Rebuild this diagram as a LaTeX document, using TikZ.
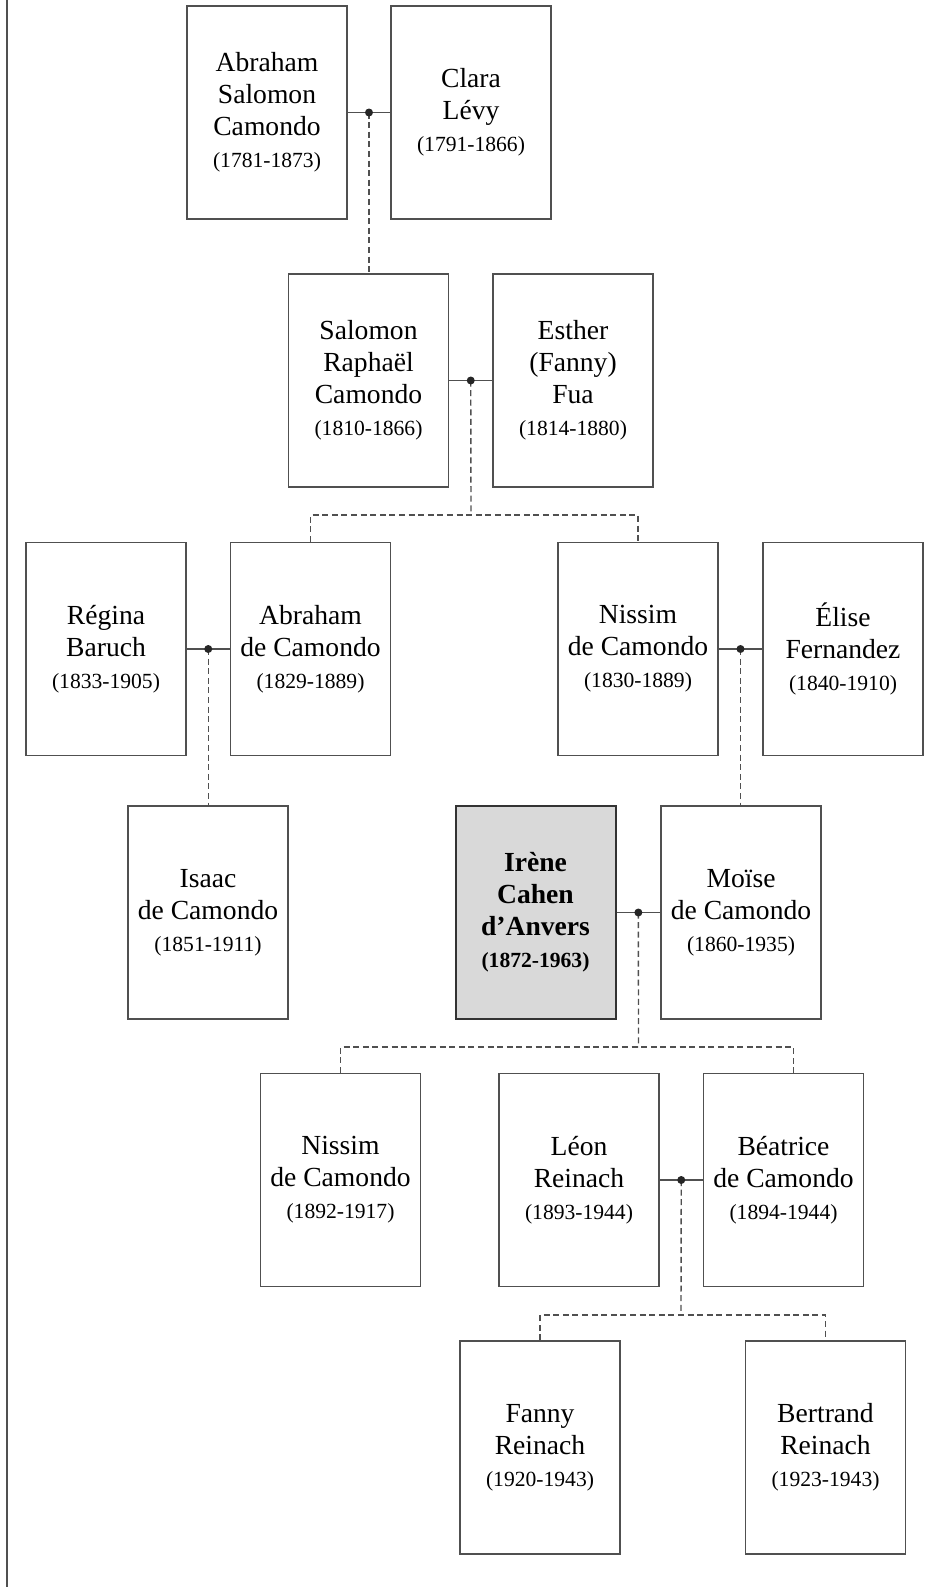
\documentclass[tikz,border=0pt]{standalone}
\usepackage{fontspec}
\setmainfont{Liberation Serif}
\definecolor{linegray}{HTML}{505050}
\definecolor{focusgray}{HTML}{D9D9D9}
\newcommand{\lifespan}[1]{{\fontsize{10.8}{16}\selectfont(#1)}}

\begin{document}
\begin{tikzpicture}[x=0.5pt,y=-0.5pt,
    person/.style={draw=linegray,line width=0.75pt,fill=white,minimum width=80pt,
        minimum height=106.5pt,inner sep=0pt,align=center,
        font=\fontsize{13.8}{16}\selectfont},
    focus/.style={person,fill=focusgray,draw=black!80,line width=1pt,
        font=\fontsize{13.8}{16}\selectfont\bfseries},
    marriage/.style={draw=linegray,line width=0.75pt},
    descent/.style={draw=linegray,line width=0.7pt,dash pattern=on 3pt off 1.8pt},
    knot/.style={fill=black!85}]
    \useasboundingbox (0,0) rectangle (931,1587);
    \draw[linegray,line width=0.9pt] (7,0)--(7,1587);
    % generation 1
    \node[person] (abrs) at (267,112.5) {Abraham\\Salomon\\Camondo\\\lifespan{1781-1873}};
    \node[person] (clara) at (471,112.5) {Clara\\Lévy\\\lifespan{1791-1866}};
    % generation 2
    \node[person] (salomon) at (368.5,380.5) {Salomon\\Raphaël\\Camondo\\\lifespan{1810-1866}};
    \node[person] (esther) at (573,380.5) {Esther\\(Fanny)\\Fua\\\lifespan{1814-1880}};
    % generation 3
    \node[person] (regina) at (106,649) {Régina\\Baruch\\\lifespan{1833-1905}};
    \node[person] (abraham) at (310.5,649) {Abraham\\de Camondo\\\lifespan{1829-1889}};
    \node[person] (nissimA) at (638,649) {Nissim\\de Camondo\\\lifespan{1830-1889}};
    \node[person] (elise) at (843,649) {Élise\\Fernandez\\\lifespan{1840-1910}};
    % generation 4
    \node[person] (isaac) at (208,912.5) {Isaac\\de Camondo\\\lifespan{1851-1911}};
    \node[focus] (irene) at (535.5,912.5) {Irène\\Cahen\\d’Anvers\\\lifespan{1872-1963}};
    \node[person] (moise) at (741,912.5) {Moïse\\de Camondo\\\lifespan{1860-1935}};
    % generation 5
    \node[person] (nissimB) at (340.5,1180) {Nissim\\de Camondo\\\lifespan{1892-1917}};
    \node[person] (leon) at (579,1180) {Léon\\Reinach\\\lifespan{1893-1944}};
    \node[person] (beatrice) at (783.5,1180) {Béatrice\\de Camondo\\\lifespan{1894-1944}};
    % generation 6
    \node[person] (fanny) at (540,1447.5) {Fanny\\Reinach\\\lifespan{1920-1943}};
    \node[person] (bertrand) at (825.5,1447.5) {Bertrand\\Reinach\\\lifespan{1923-1943}};
    % couples
    \draw[marriage] (abrs.east)--coordinate[midway](m1)(clara.west);
    \draw[marriage] (salomon.east)--coordinate[midway](m2)(esther.west);
    \draw[marriage] (regina.east)--coordinate[midway](m3)(abraham.west);
    \draw[marriage] (nissimA.east)--coordinate[midway](m4)(elise.west);
    \draw[marriage] (irene.east)--coordinate[midway](m5)(moise.west);
    \draw[marriage] (leon.east)--coordinate[midway](m6)(beatrice.west);
    % children
    \coordinate (bus2) at (471,515);
    \coordinate (bus5) at (638.5,1047);
    \coordinate (bus6) at (681,1315);
    \draw[descent] (m1)--(m1|-salomon.north);
    \draw[descent] (m2)--(bus2);
    \draw[descent] (abraham.north)|-(bus2)-|(nissimA.north);
    \draw[descent] (m3)--(m3|-isaac.north);
    \draw[descent] (m4)--(m4|-moise.north);
    \draw[descent] (m5)--(bus5);
    \draw[descent] (nissimB.north)|-(bus5)-|([xshift=5pt]beatrice.north);
    \draw[descent] (m6)--(bus6);
    \draw[descent] (fanny.north)|-(bus6)-|(bertrand.north);
    \foreach \m in {m1,m2,m3,m4,m5,m6}
        \fill[knot] (\m) circle (2pt);
\end{tikzpicture}
\end{document}
